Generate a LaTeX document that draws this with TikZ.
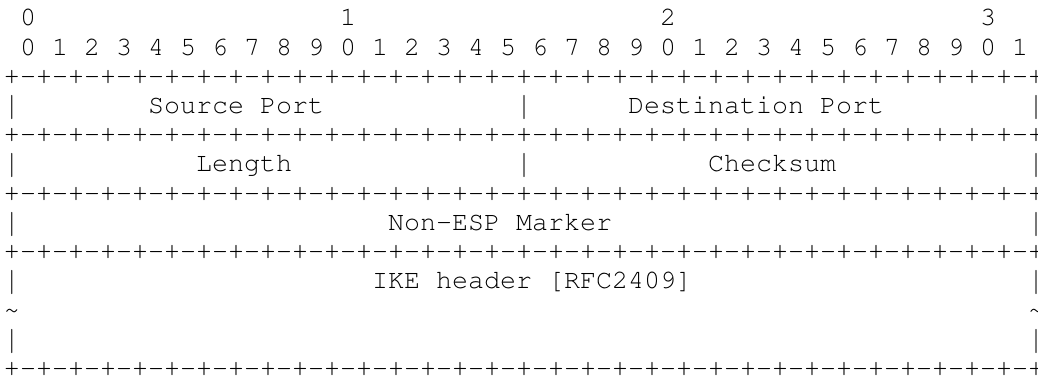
\documentclass[tikz,border=0pt]{standalone}
\usepackage[T1,TU]{fontenc}
\usepackage{graphicx}
\newcommand\vbar{\raisebox{-2pt}{\scalebox{1}[1.25]{|}}}
\begin{document}
\begin{tikzpicture}[x=1pt,y=1pt,
  txt/.style={font=\fontencoding{T1}\fontfamily{pcr}\fontseries{m}\fontshape{n}\fontsize{26.67pt}{29pt}\selectfont, inner sep=0pt, outer sep=0pt, anchor=base west, text=black}]
\useasboundingbox (0,0) rectangle (1038,-379);
\def\ruler{+-+-+-+-+-+-+-+-+-+-+-+-+-+-+-+-+-+-+-+-+-+-+-+-+-+-+-+-+-+-+-+-+}
% row 0: decade labels
\node[txt] (d0) at ({4+16*1},{-(26+29.2*0)}) {0};
\node[txt] (d1) at ({4+16*21},{-(26+29.2*0)}) {1};
\node[txt] (d2) at ({4+16*41},{-(26+29.2*0)}) {2};
\node[txt] (d3) at ({4+16*61},{-(26+29.2*0)}) {3};
% row 1: bit numbers
\node[txt] (bits) at ({4+16*1},{-(26+29.2*1)}) {0 1 2 3 4 5 6 7 8 9 0 1 2 3 4 5 6 7 8 9 0 1 2 3 4 5 6 7 8 9 0 1};
% rulers
\node[txt] (r1) at (4,{-(26+29.2*2)}) {\ruler};
\node[txt] (r2) at (4,{-(26+29.2*4)}) {\ruler};
\node[txt] (r3) at (4,{-(26+29.2*6)}) {\ruler};
\node[txt] (r4) at (4,{-(26+29.2*8)}) {\ruler};
\node[txt] (r5) at (4,{-(26+29.2*12)}) {\ruler};
% row 3
\node[txt] (b3a) at ({4+16*0},{-(26+29.2*3)}) {\vbar};
\node[txt] (sp) at ({4+16*9},{-(26+29.2*3)}) {Source Port};
\node[txt] (b3b) at ({4+16*32},{-(26+29.2*3)}) {\vbar};
\node[txt] (dp) at ({4+16*39},{-(26+29.2*3)}) {Destination Port};
\node[txt] (b3c) at ({4+16*64},{-(26+29.2*3)}) {\vbar};
% row 5
\node[txt] (b5a) at ({4+16*0},{-(26+29.2*5)}) {\vbar};
\node[txt] (len) at ({4+16*12},{-(26+29.2*5)}) {Length};
\node[txt] (b5b) at ({4+16*32},{-(26+29.2*5)}) {\vbar};
\node[txt] (cks) at ({4+16*44},{-(26+29.2*5)}) {Checksum};
\node[txt] (b5c) at ({4+16*64},{-(26+29.2*5)}) {\vbar};
% row 7
\node[txt] (b7a) at ({4+16*0},{-(26+29.2*7)}) {\vbar};
\node[txt] (nem) at ({4+16*24},{-(26+29.2*7)}) {Non-ESP Marker};
\node[txt] (b7b) at ({4+16*64},{-(26+29.2*7)}) {\vbar};
% row 9
\node[txt] (b9a) at ({4+16*0},{-(26+29.2*9)}) {\vbar};
\node[txt] (ike) at ({4+16*23},{-(26+29.2*9)}) {IKE header [RFC2409]};
\node[txt] (b9b) at ({4+16*64},{-(26+29.2*9)}) {\vbar};
% row 10
\node[txt] (t10a) at ({4+16*0},{-(26+29.2*10)}) {\char126};
\node[txt] (t10b) at ({4+16*64},{-(26+29.2*10)}) {\char126};
% row 11
\node[txt] (b11a) at ({4+16*0},{-(26+29.2*11)}) {\vbar};
\node[txt] (b11b) at ({4+16*64},{-(26+29.2*11)}) {\vbar};
\end{tikzpicture}
\end{document}
